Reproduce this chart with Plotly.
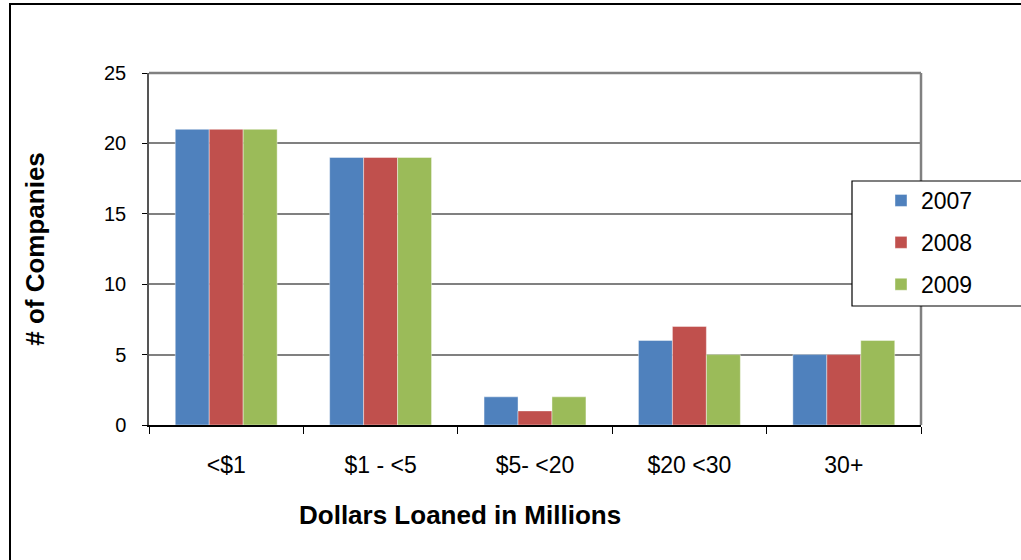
import plotly.graph_objects as go

categories = ["<$1", "$1 - <5", "$5- <20", "$20 <30", "30+"]
years = ["2007", "2008", "2009"]
counts_2007 = [21, 19, 2, 6, 5]
counts_2008 = [21, 19, 1, 7, 5]
counts_2009 = [21, 19, 2, 5, 6]
y_ticks = [0, 5, 10, 15, 20, 25]

series = [counts_2007, counts_2008, counts_2009]
colors = ["#4F81BD", "#C0504D", "#9BBB59"]

FONT = "Liberation Sans, Arial, sans-serif"

fig = go.Figure()
for name, vals, col in zip(years, series, colors):
    fig.add_trace(go.Bar(
        x=categories, y=vals, name=name,
        marker=dict(color=col, line=dict(color="rgba(255,255,255,0.6)", width=0.7)),
        legendgroup=name,
    ))

# plot area in pixels: x 149..921, y 73..425
L, R, T, B = 149, 921, 73, 425
W, H = 1021, 560
pw, ph = R - L, B - T

def px_x(p):
    return (p - L) / pw

def px_y(p):
    return (B - p) / ph

fig.update_layout(
    width=W, height=H,
    margin=dict(l=L, r=W - R, t=T, b=H - B, pad=0),
    paper_bgcolor="white", plot_bgcolor="white",
    barmode="group", bargap=0.34, bargroupgap=0,
    font=dict(family=FONT, color="black", size=20),
    showlegend=True,
    legend=dict(
        x=px_x(881), y=px_y(179), xanchor="left", yanchor="top",
        bgcolor="rgba(0,0,0,0)", borderwidth=0,
        font=dict(size=23, family=FONT),
        traceorder="grouped", tracegroupgap=9,
    ),
    xaxis=dict(
        type="category", showgrid=False,
        showline=True, linecolor="black", linewidth=1.5,
        ticks="outside", tickson="boundaries", ticklen=7, tickcolor="black",
        tickfont=dict(size=23), ticklabelstandoff=19,
    ),
    yaxis=dict(
        range=[0, 25], tickvals=y_ticks, showgrid=True, gridcolor="#808080", gridwidth=1.5,
        showline=True, linecolor="#555555", linewidth=1.5,
        ticks="outside", ticklen=5, tickcolor="black",
        tickfont=dict(size=20), ticklabelstandoff=12,
        title=dict(text="<b># of Companies</b>", font=dict(size=26), standoff=52),
        zeroline=False,
    ),
    annotations=[
        dict(text="<b>Dollars Loaned in Millions</b>", xref="paper", yref="paper",
             x=px_x(460), y=px_y(515), xanchor="center", yanchor="middle",
             showarrow=False, font=dict(size=26, family=FONT, color="black")),
    ],
    shapes=[
        # right and top edges of the plot area
        dict(type="line", xref="paper", yref="paper", x0=0, x1=1, y0=1, y1=1,
             line=dict(color="#808080", width=2.5)),
        dict(type="line", xref="paper", yref="paper", x0=1, x1=1, y0=0, y1=1,
             line=dict(color="#808080", width=2.5)),
        # legend box
        dict(type="rect", xref="paper", yref="paper",
             x0=px_x(852), x1=px_x(1040), y0=px_y(306), y1=px_y(181),
             line=dict(color="black", width=1.2), fillcolor="white", layer="above"),
        # chart frame
        dict(type="rect", xref="paper", yref="paper",
             x0=px_x(10), x1=px_x(1040), y0=px_y(580), y1=px_y(4),
             line=dict(color="black", width=2), fillcolor="rgba(0,0,0,0)", layer="above"),
    ],
)

fig.write_html("out.html")
